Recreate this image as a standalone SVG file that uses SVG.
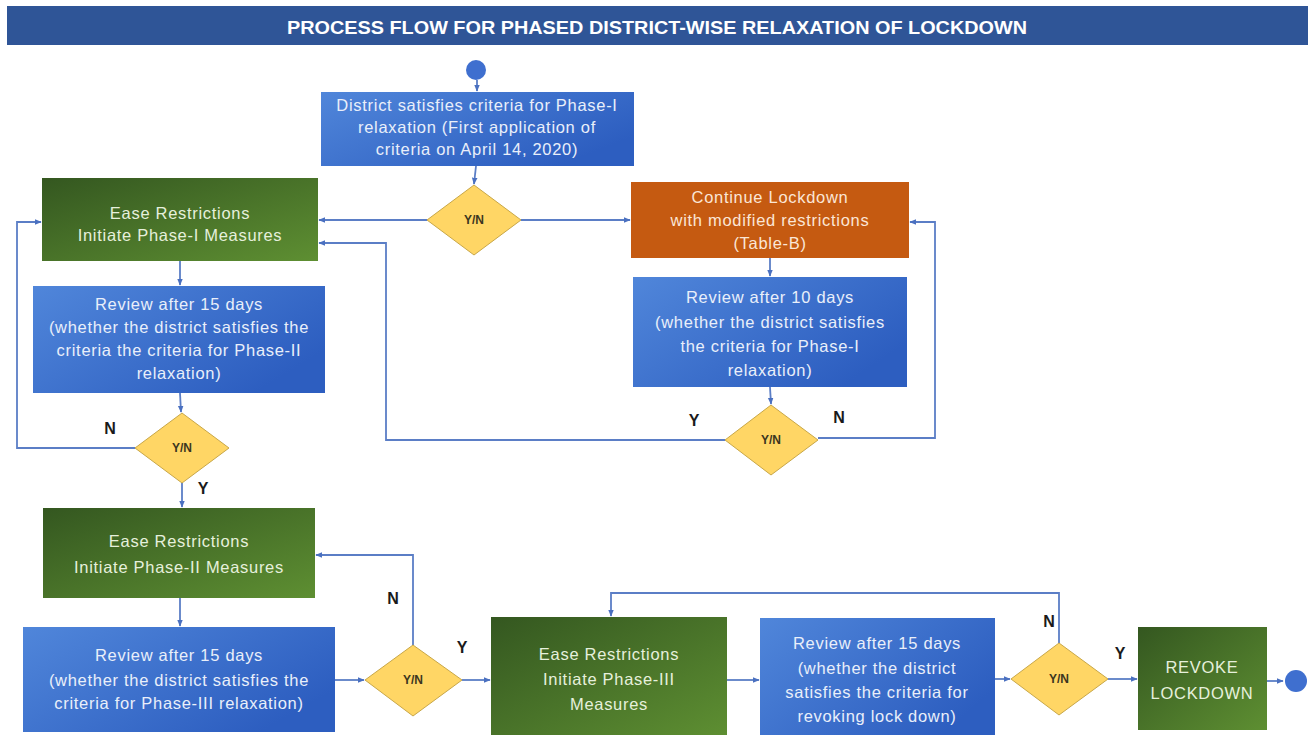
<svg xmlns="http://www.w3.org/2000/svg" width="1315" height="735" viewBox="0 0 1315 735">
<defs>
<linearGradient id="gGreen" x1="0" y1="0" x2="1" y2="1">
<stop offset="0" stop-color="#345720"/>
<stop offset="1" stop-color="#5e8f32"/>
</linearGradient>
<linearGradient id="gBlue" x1="0" y1="0" x2="1" y2="0.6">
<stop offset="0" stop-color="#5086da"/>
<stop offset="1" stop-color="#2d5ec0"/>
</linearGradient>
<marker id="arr" viewBox="0 0 10 10" refX="9" refY="5" markerWidth="7" markerHeight="7" markerUnits="userSpaceOnUse" orient="auto">
<path d="M0,1 L10,5 L0,9 Z" fill="#4a70c0"/>
</marker>
<style>
.con{fill:none;stroke:#5b7ec6;stroke-width:1.8}
.bt{font-family:"Liberation Sans",Arial,sans-serif;font-size:16.5px;letter-spacing:0.7px;text-anchor:middle}
.wg{fill:#e6f0dc}
.wb{fill:#e9effa}
.wo{fill:#fbe6d6}
.dia{fill:#ffd665;stroke:#c8a748;stroke-width:1}
.yn{font-family:"Liberation Sans",Arial,sans-serif;font-size:12px;font-weight:bold;fill:#3b3520;text-anchor:middle}
.lbl{font-family:"Liberation Sans",Arial,sans-serif;font-size:16px;font-weight:bold;fill:#1a1a1a;text-anchor:middle}
.term{fill:#3f6fcf}
</style>
</defs>
<rect width="1315" height="735" fill="#ffffff"/>

<g id="title">
<rect x="7" y="6" width="1301" height="39" fill="#2f5597"/>
<text x="657" y="34" font-family="'Liberation Sans',Arial,sans-serif" font-size="18" font-weight="bold" fill="#ffffff" text-anchor="middle" textLength="740" lengthAdjust="spacingAndGlyphs">PROCESS FLOW FOR PHASED DISTRICT-WISE RELAXATION OF LOCKDOWN</text>
</g>

<g id="connectors">
<path class="con" d="M477,80 L477,91" marker-end="url(#arr)"/>
<path class="con" d="M476,166 L474,184" marker-end="url(#arr)"/>
<path class="con" d="M427,220 L319,220" marker-end="url(#arr)"/>
<path class="con" d="M521,220 L630,220" marker-end="url(#arr)"/>
<path class="con" d="M180,261 L180,285" marker-end="url(#arr)"/>
<path class="con" d="M180,393 L181,412" marker-end="url(#arr)"/>
<path class="con" d="M135,448 L17,448 L17,222 L41,222" marker-end="url(#arr)"/>
<path class="con" d="M182,483 L182,507" marker-end="url(#arr)"/>
<path class="con" d="M180,598 L180,626" marker-end="url(#arr)"/>
<path class="con" d="M335,680 L364,680" marker-end="url(#arr)"/>
<path class="con" d="M413,645 L413,555 L316,555" marker-end="url(#arr)"/>
<path class="con" d="M462,680 L490,680" marker-end="url(#arr)"/>
<path class="con" d="M727,680 L759,680" marker-end="url(#arr)"/>
<path class="con" d="M995,679 L1010,679" marker-end="url(#arr)"/>
<path class="con" d="M1059,643 L1059,593 L611,593 L611,616" marker-end="url(#arr)"/>
<path class="con" d="M1108,679 L1137,679" marker-end="url(#arr)"/>
<path class="con" d="M1267,681 L1283,681" marker-end="url(#arr)"/>
<path class="con" d="M770,258 L770,276" marker-end="url(#arr)"/>
<path class="con" d="M770,387 L771,404" marker-end="url(#arr)"/>
<path class="con" d="M725,440 L386,440 L386,243 L319,243" marker-end="url(#arr)"/>
<path class="con" d="M818,438 L935,438 L935,222 L910,222" marker-end="url(#arr)"/>
</g>

<g id="start"><circle class="term" cx="476" cy="70" r="10"/></g>
<g id="end"><circle class="term" cx="1296" cy="681" r="11"/></g>

<g id="box-district">
<rect x="321" y="92" width="313" height="74" fill="url(#gBlue)"/>
<text class="bt wb"><tspan x="477" y="111">District satisfies criteria for Phase-I</tspan><tspan x="477" y="133">relaxation (First application of</tspan><tspan x="477" y="155">criteria on April 14, 2020)</tspan></text>
</g>

<g id="dec1">
<polygon class="dia" points="474,185 521,220 474,255 427,220"/>
<text class="yn" x="474" y="224">Y/N</text>
</g>

<g id="box-phase1">
<rect x="42" y="178" width="276" height="83" fill="url(#gGreen)"/>
<text class="bt wg"><tspan x="180" y="219">Ease Restrictions</tspan><tspan x="180" y="241">Initiate Phase-I Measures</tspan></text>
</g>

<g id="box-continue">
<rect x="631" y="182" width="278" height="76" fill="#c55a11"/>
<text class="bt wo"><tspan x="770" y="203">Continue Lockdown</tspan><tspan x="770" y="226">with modified restrictions</tspan><tspan x="770" y="249">(Table-B)</tspan></text>
</g>

<g id="box-review10">
<rect x="633" y="277" width="274" height="110" fill="url(#gBlue)"/>
<text class="bt wb"><tspan x="770" y="303">Review after 10 days</tspan><tspan x="770" y="328">(whether the district satisfies</tspan><tspan x="770" y="352">the criteria for Phase-I</tspan><tspan x="770" y="376">relaxation)</tspan></text>
</g>

<g id="dec5">
<polygon class="dia" points="771,405 818,440 771,475 725,440"/>
<text class="yn" x="771" y="444">Y/N</text>
</g>
<text class="lbl" x="694" y="426">Y</text>
<text class="lbl" x="839" y="423">N</text>

<g id="box-review15a">
<rect x="33" y="286" width="292" height="107" fill="url(#gBlue)"/>
<text class="bt wb"><tspan x="179" y="310">Review after 15 days</tspan><tspan x="179" y="333">(whether the district satisfies the</tspan><tspan x="179" y="356">criteria the criteria for Phase-II</tspan><tspan x="179" y="379">relaxation)</tspan></text>
</g>

<g id="dec2">
<polygon class="dia" points="182,413 229,448 182,483 135,448"/>
<text class="yn" x="182" y="452">Y/N</text>
</g>
<text class="lbl" x="110" y="434">N</text>
<text class="lbl" x="203" y="494">Y</text>

<g id="box-phase2">
<rect x="43" y="508" width="272" height="90" fill="url(#gGreen)"/>
<text class="bt wg"><tspan x="179" y="547">Ease Restrictions</tspan><tspan x="179" y="573">Initiate Phase-II Measures</tspan></text>
</g>

<g id="box-review15b">
<rect x="23" y="627" width="312" height="105" fill="url(#gBlue)"/>
<text class="bt wb"><tspan x="179" y="661">Review after 15 days</tspan><tspan x="179" y="686">(whether the district satisfies the</tspan><tspan x="179" y="709">criteria for Phase-III relaxation)</tspan></text>
</g>

<g id="dec3">
<polygon class="dia" points="413,645 462,680 413,716 365,680"/>
<text class="yn" x="413" y="684">Y/N</text>
</g>
<text class="lbl" x="393" y="604">N</text>
<text class="lbl" x="462" y="653">Y</text>

<g id="box-phase3">
<rect x="491" y="617" width="236" height="120" fill="url(#gGreen)"/>
<text class="bt wg"><tspan x="609" y="660">Ease Restrictions</tspan><tspan x="609" y="685">Initiate Phase-III</tspan><tspan x="609" y="710">Measures</tspan></text>
</g>

<g id="box-review15c">
<rect x="760" y="618" width="235" height="119" fill="url(#gBlue)"/>
<text class="bt wb"><tspan x="877" y="649">Review after 15 days</tspan><tspan x="877" y="674">(whether the district</tspan><tspan x="877" y="698">satisfies the criteria for</tspan><tspan x="877" y="722">revoking lock down)</tspan></text>
</g>

<g id="dec4">
<polygon class="dia" points="1059,643 1108,679 1059,715 1011,679"/>
<text class="yn" x="1059" y="683">Y/N</text>
</g>
<text class="lbl" x="1049" y="627">N</text>
<text class="lbl" x="1120" y="659">Y</text>

<g id="box-revoke">
<rect x="1138" y="627" width="129" height="103" fill="url(#gGreen)"/>
<text class="bt wg"><tspan x="1202" y="673">REVOKE</tspan><tspan x="1202" y="699">LOCKDOWN</tspan></text>
</g>
</svg>
